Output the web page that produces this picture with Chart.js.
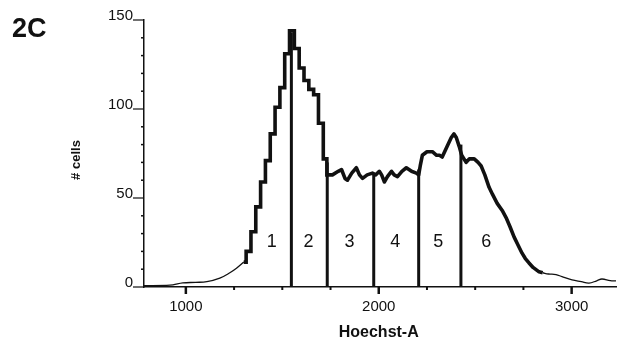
<!DOCTYPE html>
<html>
<head>
<meta charset="utf-8">
<script src="https://cdn.jsdelivr.net/npm/chart.js@4.4.1/dist/chart.umd.min.js"></script>
<style>
    body { margin: 0; background: #fff; }
    #wrap { width: 617px; height: 344px; }
</style>
</head>
<body>
<div id="wrap"><canvas id="cellCycleChart" width="617" height="344"></canvas></div>
<script>
// G1 peak, drawn as 25-unit histogram bins
const peakBinX = [
    1300, 1325, 1350, 1375, 1400, 1425, 1450, 1475, 1500, 1525,
    1550, 1575, 1600, 1625, 1650, 1675, 1700, 1725, 1737
];
const peakBinY = [
    14, 20, 31, 45, 59, 71, 86, 101, 112, 131,
    144, 134, 123, 116, 111, 108, 92, 72, 63
];

// S phase plateau, G2 peak and falling edge
const plateauX = [
    1737, 1760, 1790, 1807, 1825, 1838, 1860, 1884, 1900, 1916,
    1940, 1967, 1985, 2003, 2015, 2029, 2045, 2066, 2080, 2097,
    2120, 2143, 2170, 2195, 2207, 2215, 2226, 2250, 2278, 2300,
    2315, 2329, 2350, 2376, 2390, 2402, 2417, 2430, 2453, 2470,
    2495, 2515, 2531, 2550, 2572, 2590, 2614, 2640, 2660, 2680,
    2702, 2720, 2743, 2760, 2779, 2800, 2831, 2850
];
const plateauY = [
    63, 63, 65, 66, 61, 60, 64, 67, 63, 61,
    63, 64, 63, 65, 63, 59, 62, 65, 63, 62,
    65, 67, 65, 64, 63, 68, 74, 76, 76, 74,
    74, 73, 78, 84, 86, 84, 79, 74, 70, 72,
    72, 70, 68, 63, 56, 52, 47, 43, 39, 34,
    28, 24, 19, 16, 13.5, 11, 8.5, 8
];

// thin tails on either side
const leftTailX = [783, 900, 933, 984, 1050, 1109, 1176, 1228, 1264, 1300];
const leftTailY = [0.8, 0.9, 1.2, 2.3, 2.6, 3, 5, 8, 10.7, 14];
const rightTailX = [2850, 2880, 2919, 2950, 3002, 3050, 3090, 3130, 3157, 3200, 3230];
const rightTailY = [8, 7.3, 7, 5.8, 4, 3, 2.2, 3.5, 4.5, 3.6, 3.4];

// gate boundaries and how high each line reaches
const gateX = [1547, 1733, 1974, 2207, 2426];
const gateTop = [143, 70, 64, 66, 80];

// gate numbers
const gateLabels = ['1', '2', '3', '4', '5', '6'];
const gateLabelX = [1445, 1636, 1848, 2086, 2309, 2557];
const gateLabelY = 25;

const xTicks = [1000, 1250, 1500, 1750, 2000, 2250, 2500, 2750, 3000];
const yTickStep = 10;

const INK = '#111';
const FONT = '"Liberation Sans", Arial, Helvetica, sans-serif';

function toPoints(xs, ys) {
    return xs.map((x, i) => ({ x: x, y: ys[i] }));
}

const datasets = [
    {
        data: toPoints(peakBinX, peakBinY),
        borderColor: INK,
        borderWidth: 3.6,
        stepped: 'middle',
        pointRadius: 0
    },
    {
        data: toPoints(plateauX, plateauY),
        borderColor: INK,
        borderWidth: 3.6,
        borderJoinStyle: 'round',
        pointRadius: 0
    },
    {
        data: toPoints(leftTailX, leftTailY),
        borderColor: INK,
        borderWidth: 1.3,
        tension: 0.4,
        pointRadius: 0
    },
    {
        data: toPoints(rightTailX, rightTailY),
        borderColor: INK,
        borderWidth: 1.3,
        tension: 0.4,
        pointRadius: 0
    }
];

gateX.forEach((x, i) => {
    datasets.push({
        data: [{ x: x, y: 0 }, { x: x, y: gateTop[i] }],
        borderColor: INK,
        borderWidth: 3,
        pointRadius: 0
    });
});

// tick marks, gate numbers and the free-standing captions
const annotations = {
    id: 'annotations',
    afterDraw(chart) {
        const ctx = chart.ctx;
        const xs = chart.scales.x;
        const ys = chart.scales.y;
        const axisY = ys.getPixelForValue(0);
        const axisX = xs.left;

        ctx.save();
        ctx.strokeStyle = INK;
        ctx.lineCap = 'butt';

        xs.ticks.forEach(t => {
            const px = xs.getPixelForValue(t.value);
            const major = t.value % 1000 === 0;
            ctx.lineWidth = major ? 2.5 : 2;
            ctx.beginPath();
            ctx.moveTo(px, axisY);
            ctx.lineTo(px, axisY + (major ? 7 : 3));
            ctx.stroke();
        });

        ys.ticks.forEach(t => {
            const py = ys.getPixelForValue(t.value);
            const major = t.value % 50 === 0;
            ctx.lineWidth = major ? 1.2 : 1.5;
            ctx.beginPath();
            ctx.moveTo(axisX, py);
            ctx.lineTo(axisX - (major ? 11 : 3), py);
            ctx.stroke();
        });

        ctx.fillStyle = INK;
        ctx.font = '18px ' + FONT;
        ctx.textAlign = 'center';
        ctx.textBaseline = 'middle';
        gateLabels.forEach((label, i) => {
            ctx.fillText(label, xs.getPixelForValue(gateLabelX[i]), ys.getPixelForValue(gateLabelY));
        });

        ctx.font = 'bold 27px ' + FONT;
        ctx.textAlign = 'left';
        ctx.textBaseline = 'alphabetic';
        ctx.fillText('2C', 12, 37);

        ctx.font = 'bold 16px ' + FONT;
        ctx.textAlign = 'center';
        ctx.fillText('Hoechst-A', xs.getPixelForValue(2000), 337);

        ctx.translate(76, 160);
        ctx.rotate(-Math.PI / 2);
        ctx.font = 'bold 13px ' + FONT;
        ctx.textBaseline = 'middle';
        ctx.fillText('# cells', 0, 0);

        ctx.restore();
    }
};

new Chart(document.getElementById('cellCycleChart'), {
    type: 'line',
    data: { datasets: datasets },
    options: {
        responsive: false,
        devicePixelRatio: 1,
        animation: false,
        layout: { padding: { top: 20, right: 1, left: 0, bottom: 0 } },
        plugins: {
            legend: { display: false },
            tooltip: { enabled: false }
        },
        scales: {
            x: {
                type: 'linear',
                min: 783,
                max: 3230,
                afterFit: scale => { scale.height = 57; },
                afterBuildTicks: scale => {
                    scale.ticks = xTicks.map(v => ({ value: v }));
                },
                grid: { display: false, drawTicks: false },
                border: { display: true, color: INK, width: 1.5 },
                ticks: {
                    padding: 11,
                    maxRotation: 0,
                    autoSkip: false,
                    color: INK,
                    font: { family: FONT, size: 15 },
                    callback: v => (v % 1000 === 0 ? String(v) : '')
                }
            },
            y: {
                min: 0,
                max: 150,
                afterFit: scale => { scale.width = 144; },
                grid: { display: false, drawTicks: false },
                border: { display: true, color: INK, width: 1.5 },
                ticks: {
                    stepSize: yTickStep,
                    padding: 11,
                    labelOffset: -4,
                    autoSkip: false,
                    color: INK,
                    font: { family: FONT, size: 15 },
                    callback: v => (v % 50 === 0 ? String(v) : '')
                }
            }
        }
    },
    plugins: [annotations]
});
</script>
</body>
</html>
